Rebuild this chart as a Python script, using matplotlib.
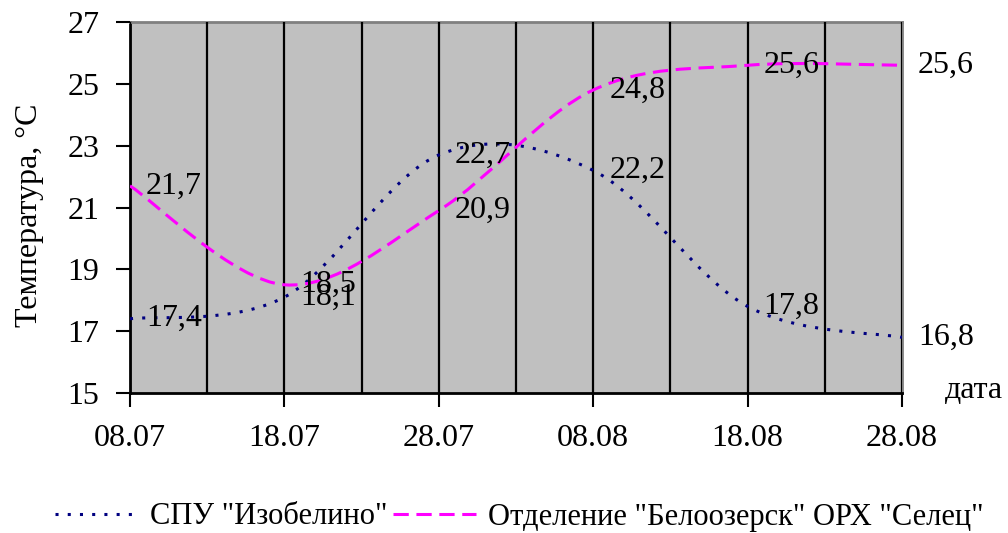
import numpy as np
import matplotlib
matplotlib.use("Agg")
import matplotlib.pyplot as plt
from matplotlib.path import Path
from matplotlib.patches import PathPatch
from matplotlib.lines import Line2D

dates = ["08.07", "18.07", "28.07", "08.08", "18.08", "28.08"]
izobelino = [17.4, 18.1, 22.7, 22.2, 17.8, 16.8]
beloozersk = [21.7, 18.5, 20.9, 24.8, 25.6, 25.6]
names = ['СПУ "Изобелино"', 'Отделение "Белоозерск" ОРХ "Селец"']

plt.rcParams["font.family"] = ["Liberation Serif", "DejaVu Serif"]
FS = 23


def smooth_path(xs, ys):
    # spreadsheet-style smoothed line: cubic Bezier through every point
    pts = np.column_stack([xs, ys]).astype(float)
    n = len(pts)
    verts = [pts[0]]
    codes = [Path.MOVETO]
    for i in range(n - 1):
        prev = pts[max(i - 1, 0)]
        nxt = pts[min(i + 2, n - 1)]
        c1 = pts[i] + (pts[i + 1] - prev) / 6
        c2 = pts[i + 1] - (nxt - pts[i]) / 6
        verts += [c1, c2, pts[i + 1]]
        codes += [Path.CURVE4] * 3
    return Path(verts, codes)


fig = plt.figure(figsize=(10.08, 5.33), dpi=100)
ax = fig.add_axes([130 / 1008, 140 / 533, 772 / 1008, 371 / 533])
ax.set_facecolor("#c0c0c0")

x = np.arange(len(dates))
ax.set_xlim(0, len(dates) - 1)
ax.set_ylim(15, 27)
ax.set_yticks(range(15, 28, 2))
ax.set_xticks(x)
ax.set_xticklabels(dates)
ax.set_xticks(np.arange(0.5, len(dates) - 1, 1.0), minor=True)
ax.tick_params(which="major", direction="out", length=10, width=1.5,
               labelsize=FS, pad=12, color="black")
ax.tick_params(which="minor", length=0)
ax.grid(which="both", axis="x", color="black", lw=1.6)
ax.set_axisbelow(False)

for side in ("left", "bottom"):
    ax.spines[side].set_linewidth(2)
    ax.spines[side].set_color("black")
for side in ("top", "right"):
    ax.spines[side].set_linewidth(2)
    ax.spines[side].set_color("#808080")

styles = [
    dict(color="#000080", ls=(0, (1, 3)), lw=2.2),
    dict(color="#ff00ff", ls=(0, (5, 2.5)), lw=2.2),
]
for ys, st in zip([izobelino, beloozersk], styles):
    patch = PathPatch(smooth_path(x, ys), facecolor="none", edgecolor=st["color"],
                      linestyle=st["ls"], linewidth=st["lw"], zorder=3)
    ax.add_patch(patch)
    for xi, yi in zip(x, ys):
        ax.annotate(f"{yi:.1f}".replace(".", ","), (xi, yi), xytext=(16, 0),
                    textcoords="offset pixels", va="center", ha="left",
                    fontsize=FS, annotation_clip=False, zorder=4)

fig.text(30 / 1008, 1 - 215 / 533, "Температура, °С", rotation=90,
         ha="center", va="center", fontsize=FS)
fig.text(945 / 1008, 1 - 390 / 533, "дата", ha="left", va="center", fontsize=FS)

handles = [Line2D([], [], **st) for st in styles]
fig.legend(handles, names, loc="center", bbox_to_anchor=(0.515, 1 - 517 / 533),
           ncol=2, frameon=False, fontsize=22, handlelength=2.7,
           handletextpad=0.4, columnspacing=0.2, borderaxespad=0)

fig.savefig("out.png", dpi=100)
